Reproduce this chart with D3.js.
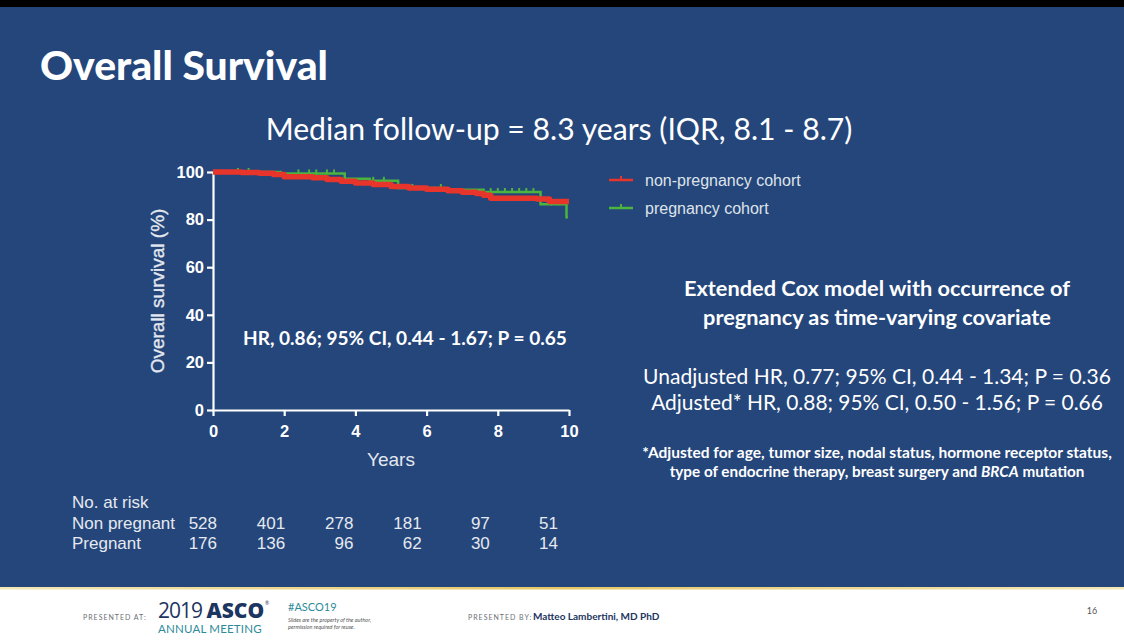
<!DOCTYPE html>
<html><head><meta charset="utf-8">
<script src="https://cdn.jsdelivr.net/npm/d3@7"></script>
<style>body{margin:0;background:#000;} svg{display:block}</style>
</head><body><svg id="c" width="1124" height="640"></svg>
<script>
// ---------- data ----------
const xTicks = [0, 2, 4, 6, 8, 10];
const yTicks = [0, 20, 40, 60, 80, 100];
const seriesNames = ["non-pregnancy cohort", "pregnancy cohort"];
const nonPregTimes = [0, 0.8, 1.3, 1.7, 2.0, 2.8, 3.2, 3.6, 4.0, 4.5, 5.0, 5.5, 6.0, 6.6, 7.0, 7.4, 7.6, 7.8, 9.1, 9.45, 10.0];
const nonPregSurv  = [100, 99.8, 99.5, 99.0, 98.0, 97.6, 96.8, 96.1, 95.4, 94.8, 93.9, 93.3, 92.7, 92.1, 91.5, 91.0, 90.2, 89.0, 88.7, 87.6, 87.6];
const pregTimes = [0, 1.9, 3.7, 4.4, 5.2, 6.5, 7.6, 9.2, 9.93, 9.97];
const pregSurv  = [100, 99.4, 97.2, 96.3, 93.3, 92.5, 91.6, 86.4, 81.0, 81.0];
const pregCensor = [0.7, 1.0, 2.4, 2.7, 2.9, 3.2, 3.4, 4.5, 4.8, 5.6, 6.4, 7.8, 8.0, 8.2, 8.4, 8.6, 8.8, 9.0, 9.5, 9.7];
const riskTimes = [0, 2, 4, 6, 8, 10];
const riskNonPregnant = [528, 401, 278, 181, 97, 51];
const riskPregnant = [176, 136, 96, 62, 30, 14];

// ---------- setup ----------
const svg = d3.select("#c");
const BLUE = "#24467b";
const CAL = "Lato, 'Open Sans', sans-serif";
const ARI = "'Liberation Sans', Arial, sans-serif";

svg.append("rect").attr("width", 1124).attr("height", 640).attr("fill", "#000");
svg.append("rect").attr("y", 7).attr("width", 1124).attr("height", 580).attr("fill", BLUE);

function fit(sel, w) {
  const n = sel.node();
  const cur = n.getComputedTextLength();
  const fs = parseFloat(sel.attr("font-size"));
  sel.attr("font-size", (fs * w / cur).toFixed(2));
  return sel;
}

// Titles
fit(svg.append("text").attr("x", 40).attr("y", 80).attr("font-family", CAL).attr("font-weight", 900)
  .attr("font-size", 30).attr("fill", "#fff").text("Overall Survival"), 288);
fit(svg.append("text").attr("x", 559).attr("y", 140).attr("text-anchor", "middle").attr("font-family", CAL)
  .attr("font-size", 28).attr("fill", "#fff").text("Median follow-up = 8.3 years (IQR, 8.1 - 8.7)"), 587);

// ---------- chart ----------
const x = d3.scaleLinear().domain([0, 10]).range([213, 569]);
const y = d3.scaleLinear().domain([0, 100]).range([410, 172]);

const ax = svg.append("g");
const yAxis = ax.append("g").attr("transform", `translate(${x(0)},0)`)
  .call(d3.axisLeft(y).tickValues(yTicks).tickSize(6).tickSizeOuter(0).tickPadding(3));
const xAxis = ax.append("g").attr("transform", `translate(0,${y(0)})`)
  .call(d3.axisBottom(x).tickValues(xTicks).tickSize(6).tickSizeOuter(0).tickPadding(9));
[yAxis, xAxis].forEach(g => {
  g.selectAll("path,line").attr("stroke", "#fff").attr("stroke-width", 2.2);
  g.selectAll("text").attr("fill", "#fff").attr("font-family", ARI).attr("font-weight", 700).attr("font-size", 16.5);
});

// axis labels
svg.append("text").attr("transform", `translate(164,${(y(0) + y(100)) / 2}) rotate(-90)`)
  .attr("text-anchor", "middle").attr("font-family", ARI).attr("font-size", 19).attr("fill", "#e4e8ee")
  .attr("stroke", "#e4e8ee").attr("stroke-width", 0.35)
  .text("Overall survival (%)");
svg.append("text").attr("x", (x(0) + x(10)) / 2).attr("y", 466).attr("text-anchor", "middle")
  .attr("font-family", ARI).attr("font-size", 19).attr("fill", "#e4e8ee").text("Years");

// curves
const stepLine = d3.line().x(d => x(d[0])).y(d => y(d[1])).curve(d3.curveStepAfter);
const nonPreg = nonPregTimes.map((t, i) => [t, nonPregSurv[i]]);
const preg = pregTimes.map((t, i) => [t, pregSurv[i]]);
function survAt(times, surv, t) { let s = surv[0]; for (let i = 0; i < times.length; i++) if (times[i] <= t) s = surv[i]; return s; }

const GREEN = "#4cb33c", RED = "#e8352b";
svg.append("path").attr("d", stepLine(preg)).attr("fill", "none").attr("stroke", GREEN).attr("stroke-width", 2.5);
svg.append("g").selectAll("line").data(pregCensor).join("line")
  .attr("x1", d => x(d)).attr("x2", d => x(d))
  .attr("y1", d => y(survAt(pregTimes, pregSurv, d)) + 1)
  .attr("y2", d => y(survAt(pregTimes, pregSurv, d)) - 4)
  .attr("stroke", GREEN).attr("stroke-width", 2);
svg.append("path").attr("d", stepLine(nonPreg)).attr("fill", "none").attr("stroke", RED).attr("stroke-width", 5.5)
  .attr("stroke-linejoin", "round");

// HR text
fit(svg.append("text").attr("x", 243).attr("y", 345).attr("font-family", CAL).attr("font-weight", 700)
  .attr("font-size", 17).attr("fill", "#fff").text("HR, 0.86; 95% CI, 0.44 - 1.67; P = 0.65"), 324);

// legend
const lg = svg.append("g");
[RED, GREEN].forEach((c, i) => {
  const yy = 180 + i * 28;
  lg.append("line").attr("x1", 609).attr("x2", 633).attr("y1", yy).attr("y2", yy).attr("stroke", c).attr("stroke-width", 2.5);
  lg.append("line").attr("x1", 621).attr("x2", 621).attr("y1", yy + 1).attr("y2", yy - 4).attr("stroke", c).attr("stroke-width", 2);
  lg.append("text").attr("x", 645).attr("y", yy + 6).attr("font-family", ARI).attr("font-size", 16)
    .attr("fill", "#dfe3ea").text(seriesNames[i]);
});

// right text block
const cx = 877;
const rt = (txt, yy, fs, w, wt) => fit(svg.append("text").attr("x", cx).attr("y", yy).attr("text-anchor", "middle")
  .attr("font-family", CAL).attr("font-weight", wt).attr("font-size", fs).attr("fill", "#fff").text(txt), w);
rt("Extended Cox model with occurrence of", 296, 20, 386, 700);
rt("pregnancy as time-varying covariate", 325, 20, 348, 700);
rt("Unadjusted HR, 0.77; 95% CI, 0.44 - 1.34; P = 0.36", 384, 21, 468, 400);
rt("Adjusted* HR, 0.88; 95% CI, 0.50 - 1.56; P = 0.66", 410, 21, 452, 400);
rt("*Adjusted for age, tumor size, nodal status, hormone receptor status,", 458, 14, 470, 700);
const fn = svg.append("text").attr("x", cx).attr("y", 477).attr("text-anchor", "middle")
  .attr("font-family", CAL).attr("font-weight", 700).attr("font-size", 14).attr("fill", "#fff");
fn.append("tspan").text("type of endocrine therapy, breast surgery and ");
fn.append("tspan").attr("font-style", "italic").text("BRCA");
fn.append("tspan").text(" mutation");
fit(fn, 415);

// risk table
const rc = "#e6e9ef";
const rtab = svg.append("g").attr("font-family", ARI).attr("font-size", 17).attr("fill", rc);
rtab.append("text").attr("x", 72).attr("y", 508).text("No. at risk");
rtab.append("text").attr("x", 72).attr("y", 529).text("Non pregnant");
rtab.append("text").attr("x", 72).attr("y", 549).text("Pregnant");
const colX = t => x(t) + 4 - 1.5 * t;
rtab.selectAll("text.np").data(riskTimes).join("text").attr("class", "np")
  .attr("x", colX).attr("y", 529).attr("text-anchor", "end").text((d, i) => riskNonPregnant[i]);
rtab.selectAll("text.pg").data(riskTimes).join("text").attr("class", "pg")
  .attr("x", colX).attr("y", 549).attr("text-anchor", "end").text((d, i) => riskPregnant[i]);

// ---------- footer ----------
const defs = svg.append("defs");
const gr = defs.append("linearGradient").attr("id", "gold").attr("x1", 0).attr("x2", 1);
gr.append("stop").attr("offset", 0).attr("stop-color", "#f3e7b8");
gr.append("stop").attr("offset", 0.5).attr("stop-color", "#e7c766");
gr.append("stop").attr("offset", 1).attr("stop-color", "#f3e7b8");
svg.append("rect").attr("y", 587).attr("width", 1124).attr("height", 53).attr("fill", "#fff");
svg.append("rect").attr("y", 587).attr("width", 1124).attr("height", 2.5).attr("fill", "url(#gold)");
const ft = svg.append("g").attr("font-family", CAL);
ft.append("text").attr("x", 83).attr("y", 620).attr("font-size", 7).attr("letter-spacing", 1).attr("fill", "#6b6f75").text("PRESENTED AT:");
ft.append("text").attr("x", 158).attr("y", 618).attr("font-size", 21).attr("font-family", "'Open Sans', sans-serif").attr("fill", "#1d3561")
  .html('<tspan font-weight="400" letter-spacing="-1">2019 </tspan><tspan font-weight="800">ASCO</tspan>');
ft.append("text").attr("x", 265).attr("y", 605).attr("font-size", 5).attr("fill", "#1d3561").text("®");
ft.append("text").attr("x", 158).attr("y", 633).attr("font-size", 11.5).attr("fill", "#2e8a9a").attr("letter-spacing", 0.2).text("ANNUAL MEETING");
ft.append("text").attr("x", 288).attr("y", 611).attr("font-size", 11).attr("fill", "#2e8a9a").text("#ASCO19");
ft.append("text").attr("x", 288).attr("y", 622).attr("font-size", 5.5).attr("font-style", "italic").attr("fill", "#555").text("Slides are the property of the author,");
ft.append("text").attr("x", 288).attr("y", 629).attr("font-size", 5.5).attr("font-style", "italic").attr("fill", "#555").text("permission required for reuse.");
ft.append("text").attr("x", 468).attr("y", 620).attr("font-size", 7).attr("letter-spacing", 1).attr("fill", "#6b6f75").text("PRESENTED BY:");
ft.append("text").attr("x", 533).attr("y", 620).attr("font-size", 10).attr("font-weight", 700).attr("fill", "#1d3561").text("Matteo Lambertini, MD PhD");
ft.append("text").attr("x", 1092).attr("y", 614).attr("font-size", 9).attr("fill", "#555").attr("text-anchor", "middle").text("16");
</script></body></html>
